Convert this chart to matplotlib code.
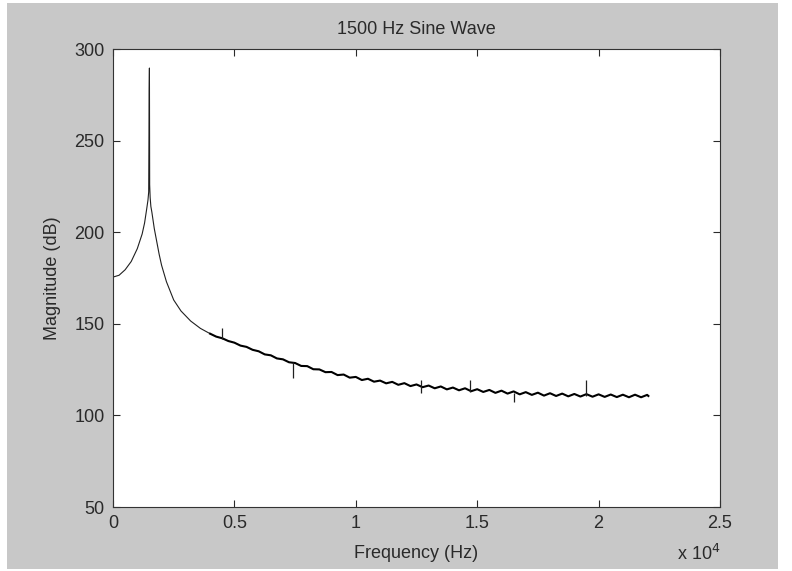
import matplotlib
matplotlib.use("Agg")
import matplotlib.pyplot as plt
from matplotlib.patches import Rectangle
from matplotlib.ticker import FuncFormatter

# low-frequency part of the spectrum (Hz, dB)
low_freq = [0, 250, 500, 750, 1000, 1200, 1300, 1380, 1440, 1470, 1490, 1500,
            1510, 1530, 1560, 1600, 1700, 1800, 1900, 2000, 2200, 2500, 2800,
            3200, 3600, 4000]
low_mag = [175.5, 176.5, 179.5, 184.0, 191.0, 199.0, 205.0, 212.0, 217.5, 222.0,
           277.6, 289.6, 226.0, 219.0, 214.0, 211.0, 202.0, 195.0, 188.0, 182.0,
           173.0, 163.0, 157.0, 151.5, 147.5, 144.6]

# noisy tail (every 250 Hz)
high_freq = [4000, 4250, 4500, 4750, 5000, 5250, 5500, 5750, 6000, 6250, 6500,
             6750, 7000, 7250, 7500, 7750, 8000, 8250, 8500, 8750, 9000, 9250,
             9500, 9750, 10000, 10250, 10500, 10750, 11000, 11250, 11500, 11750,
             12000, 12250, 12500, 12750, 13000, 13250, 13500, 13750, 14000,
             14250, 14500, 14750, 15000, 15250, 15500, 15750, 16000, 16250,
             16500, 16750, 17000, 17250, 17500, 17750, 18000, 18250, 18500,
             18750, 19000, 19250, 19500, 19750, 20000, 20250, 20500, 20750,
             21000, 21250, 21500, 21750, 22000, 22050]
high_mag = [144.6, 143.0, 142.1, 140.6, 139.7, 138.1, 137.4, 135.8, 135.0, 133.3,
            132.8, 131.1, 130.6, 129.0, 128.6, 127.0, 126.9, 125.2, 125.1, 123.6,
            123.7, 122.0, 122.3, 120.6, 121.0, 119.3, 120.0, 118.4, 119.0, 117.5,
            118.3, 116.7, 117.6, 116.0, 116.9, 115.4, 116.3, 114.8, 115.8, 114.2,
            115.2, 113.7, 114.8, 113.2, 114.3, 112.8, 113.9, 112.3, 113.5, 111.9,
            113.1, 111.5, 112.7, 111.2, 112.4, 110.8, 112.1, 110.6, 111.9, 110.4,
            111.7, 110.3, 111.6, 110.2, 111.5, 110.1, 111.4, 110.0, 111.3, 109.9,
            111.3, 109.9, 111.2, 110.6]

# isolated spikes: frequency, bottom, top
spike_freq = [4480, 7420, 12700, 14700, 16500, 19500]
spike_lo = [141.8, 120.4, 112.2, 113.0, 107.5, 110.5]
spike_hi = [147.7, 129.1, 119.5, 119.3, 112.5, 119.3]

plt.rcParams['font.family'] = ['Liberation Sans', 'DejaVu Sans']
fs = 13
txt = '#2a2a2a'

fig = plt.figure(figsize=(7.92, 5.71), dpi=100, facecolor='white')
# matlab grey window
fig.patches.append(Rectangle((7 / 792, 1 - 569 / 571), 771 / 792, 566 / 571,
                             transform=fig.transFigure, facecolor='#c8c8c8',
                             edgecolor='none', zorder=-10))

ax = fig.add_axes([113 / 792, 1 - 507 / 571, 607 / 792, 458 / 571])
ax.set_zorder(1)
ax.set_facecolor('white')
ax.plot(low_freq, low_mag, color='#202020', lw=0.8)
ax.plot(high_freq, high_mag, color='black', lw=1.5)
ax.vlines(spike_freq, spike_lo, spike_hi, color='#202020', lw=0.9)

ax.set_xlim(0, 25000)
ax.set_ylim(50, 300)
ax.set_xticks([0, 5000, 10000, 15000, 20000, 25000])
ax.set_yticks([50, 100, 150, 200, 250, 300])
ax.xaxis.set_major_formatter(FuncFormatter(lambda v, p: f"{v / 1e4:g}"))
ax.tick_params(direction='in', top=True, right=True, length=5, width=0.8,
               labelsize=fs, colors=txt, pad=6)
for s in ax.spines.values():
    s.set_color('#333333')
    s.set_linewidth(0.8)

ax.set_title('1500 Hz Sine Wave', fontsize=fs, color=txt, pad=11)
ax.set_xlabel('Frequency (Hz)', fontsize=fs, color=txt, labelpad=9)
ax.set_ylabel('Magnitude (dB)', fontsize=fs, color=txt, labelpad=10)
ax.text(1.0, -0.08, 'x 10$^{4}$', transform=ax.transAxes, ha='right', va='top',
        fontsize=fs, color=txt)

fig.savefig('out.png', dpi=100, facecolor=fig.get_facecolor())
